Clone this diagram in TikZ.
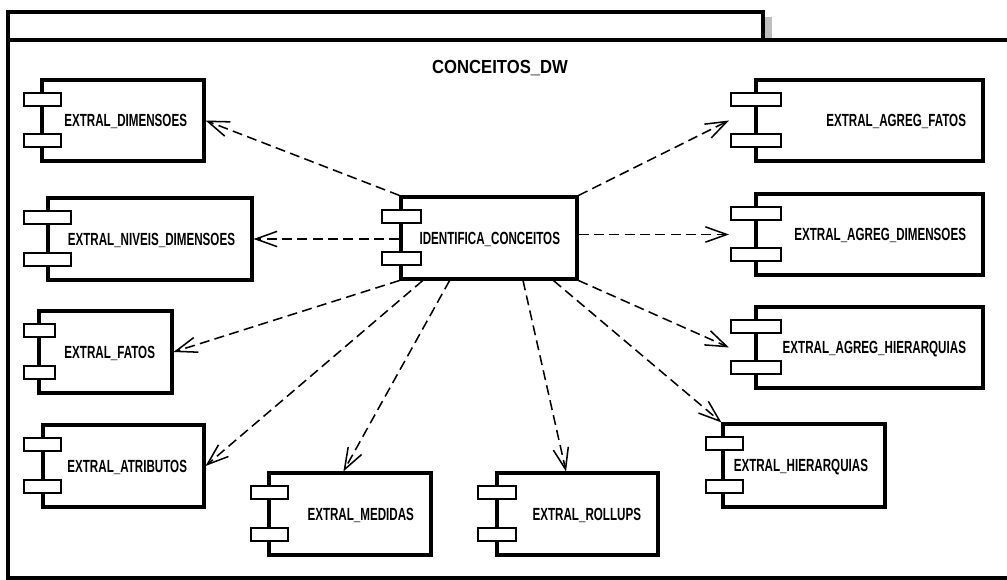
\documentclass[tikz,border=0pt]{standalone}
\usepackage{fontspec}
\usetikzlibrary{arrows.meta,calc}
\newfontfamily\compfont[FakeStretch=0.66]{Liberation Sans}
\newfontfamily\titlefont[FakeStretch=0.88]{Liberation Sans}

\tikzset{
  frameline/.style={line width=2.3pt, draw=black},
  compbox/.style={draw=black, line width=2.3pt, fill=white, inner sep=0pt,
    font=\compfont\bfseries\fontsize{13.2}{15}\selectfont, text height=9.4pt, text depth=0pt},
  port/.style={draw=black, line width=2.1pt, fill=white},
  dep/.style={line width=1.15pt, dash pattern=on 7.5pt off 4pt,
    -{Straight Barb[length=16pt, width=11.5pt, line width=1.15pt]}},
}

% component: name, left, top, right, bottom, port left, port right, label
\newcommand\umlcomponent[8]{%
  \pgfmathsetmacro\labelw{(#4-#2-34)*0.75}%
  \pgfmathsetmacro\boxw{(#4-#2)*0.75}%
  \pgfmathsetmacro\boxh{(#5-#3)*0.75}%
  \node[compbox, minimum width=\boxw pt, minimum height=\boxh pt]
    (#1) at ({(#2+#4)/2},{(#3+#5)/2}) {\makebox[\labelw pt][r]{#8}};
  \draw[port] (#6,#3+13) rectangle (#7,#3+26);
  \draw[port] (#6,#5-27) rectangle (#7,#5-14);
  \coordinate (#1-in) at ({#6-2},{(#3+#5)/2});
}

\begin{document}
\begin{tikzpicture}[x=0.75pt, y=-0.75pt]
  \useasboundingbox (0,0) rectangle (1007,580);
  % package frame with its name tab
  \fill[black!25] (764,17) rectangle (772,40);
  \draw[frameline] (8,40) rectangle (763,12);
  \draw[frameline] (1015,40) -- (8,40) -- (8,578) -- (1015,578);
  \node[font=\titlefont\bfseries\fontsize{14.2}{16}\selectfont] (pkg) at (500,68) {CONCEITOS\_DW};

  \umlcomponent{idc}{401}{197}{577}{279}{382}{421}{IDENTIFICA\_CONCEITOS}
  \umlcomponent{dim}{42}{80}{204}{161}{24}{61}{EXTRAL\_DIMENSOES}
  \umlcomponent{niv}{48}{198}{252}{280}{24}{71}{EXTRAL\_NIVEIS\_DIMENSOES}
  \umlcomponent{fat}{39}{311}{172}{393}{24}{55}{EXTRAL\_FATOS}
  \umlcomponent{atr}{43}{425}{204}{507}{24}{61}{EXTRAL\_ATRIBUTOS}
  \umlcomponent{med}{269}{473}{431}{555}{251}{288}{EXTRAL\_MEDIDAS}
  \umlcomponent{rol}{497}{473}{658}{555}{478}{516}{EXTRAL\_ROLLUPS}
  \umlcomponent{hie}{723}{424}{885}{507}{706}{743}{EXTRAL\_HIERARQUIAS}
  \umlcomponent{ahi}{756}{307}{983}{388}{731}{781}{EXTRAL\_AGREG\_HIERARQUIAS}
  \umlcomponent{adi}{756}{194}{983}{275}{731}{781}{EXTRAL\_AGREG\_DIMENSOES}
  \umlcomponent{afa}{756}{80}{983}{161}{731}{781}{EXTRAL\_AGREG\_FATOS}

  % dependencies
  \draw[dep] (idc.north west) -- (dim.east);
  \draw[dep] (niv.east -| idc.west) -- (niv.east);
  \draw[dep] (idc.south west) -- (fat.east);
  \draw[dep] ($(idc.south west)!0.13!(idc.south east)$) -- (atr.east);
  \draw[dep] ($(idc.south west)!0.28!(idc.south east)$) -- ($(med.north west)!0.46!(med.north east)$);
  \draw[dep] ($(idc.south west)!0.69!(idc.south east)$) -- ($(rol.north west)!0.43!(rol.north east)$);
  \draw[dep] ($(idc.south west)!0.86!(idc.south east)$) -- (hie.north west);
  \draw[dep] (idc.south east) -- (ahi-in);
  \draw[dep] (adi-in -| idc.east) -- (adi-in);
  \draw[dep] (idc.north east) -- (afa-in);
\end{tikzpicture}
\end{document}
